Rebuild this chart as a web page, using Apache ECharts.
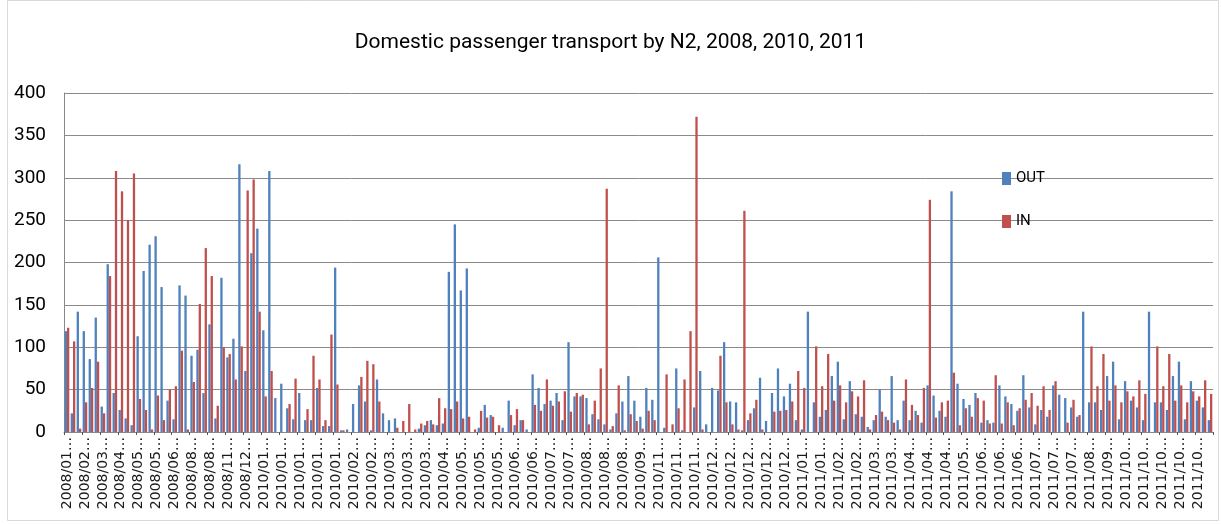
<!DOCTYPE html>
<html>
<head>
<meta charset="utf-8">
<script src="https://cdn.jsdelivr.net/npm/echarts@6/dist/echarts.min.js"></script>
<style>
  html, body { margin: 0; padding: 0; background: #fff; }
  #main { width: 1221px; height: 524px; }
</style>
</head>
<body>
<div id="main"></div>
<script>
// one tick label for every 3rd day shown on the axis (text is cut in the original)
var tickLabels = [
  '2008/01', '2008/02', '2008/03', '2008/04', '2008/05', '2008/05', '2008/06', '2008/08',
  '2008/08', '2008/11', '2008/12', '2010/01', '2010/01', '2010/01', '2010/01', '2010/01',
  '2010/02', '2010/02', '2010/03', '2010/03', '2010/03', '2010/04', '2010/05', '2010/05',
  '2010/05', '2010/06', '2010/06', '2010/07', '2010/07', '2010/08', '2010/08', '2010/08',
  '2010/09', '2010/11', '2010/11', '2010/11', '2010/12', '2010/12', '2010/12', '2010/12',
  '2010/12', '2011/01', '2011/01', '2011/02', '2011/02', '2011/03', '2011/03', '2011/04',
  '2011/04', '2011/04', '2011/05', '2011/06', '2011/06', '2011/06', '2011/07', '2011/07',
  '2011/07', '2011/08', '2011/09', '2011/10', '2011/10', '2011/10', '2011/10', '2011/10'
];

var outValues = [
  119, 22, 142, 119, 86, 135, 30, 198, 46, 26, 16, 8, 113, 190, 221, 231,
  171, 37, 15, 173, 161, 90, 97, 46, 127, 16, 182, 88, 110, 316, 72, 211,
  240, 120, 308, 40, 57, 28, 15, 46, 14, 14, 52, 7, 7, 194, 2, 3,
  33, 55, 36, 2, 62, 22, 14, 16, 0, 0, 0, 4, 8, 14, 8, 10,
  189, 245, 167, 193, 0, 5, 32, 20, 0, 5, 37, 8, 14, 3, 68, 52,
  33, 37, 46, 14, 106, 42, 42, 40, 21, 15, 9, 3, 22, 36, 66, 37,
  18, 52, 38, 206, 5, 0, 75, 2, 0, 29, 72, 9, 52, 49, 106, 36,
  35, 2, 14, 28, 64, 13, 46, 75, 42, 57, 14, 3, 142, 35, 18, 26,
  66, 83, 15, 60, 21, 18, 6, 14, 50, 18, 66, 14, 37, 14, 25, 11,
  55, 43, 25, 18, 284, 57, 39, 32, 46, 11, 14, 11, 55, 42, 33, 25,
  67, 29, 9, 26, 18, 55, 44, 40, 29, 18, 142, 35, 35, 26, 66, 83,
  15, 60, 37, 29, 14, 142, 35, 35, 26, 66, 83, 15, 60, 37, 29, 14
];

var inValues = [
  123, 107, 4, 35, 52, 83, 22, 184, 308, 284, 250, 305, 39, 26, 3, 43,
  14, 50, 54, 96, 3, 59, 151, 217, 184, 31, 100, 92, 62, 101, 285, 298,
  142, 42, 72, 0, 0, 33, 63, 0, 27, 90, 62, 14, 115, 56, 2, 0,
  0, 65, 84, 80, 36, 0, 0, 5, 13, 33, 3, 10, 13, 9, 40, 28,
  27, 36, 16, 18, 3, 25, 17, 18, 8, 0, 20, 27, 14, 0, 32, 25,
  62, 31, 36, 48, 24, 46, 44, 9, 37, 75, 287, 7, 55, 2, 21, 13,
  4, 25, 14, 0, 68, 9, 28, 62, 119, 372, 3, 0, 0, 90, 35, 9,
  3, 261, 22, 38, 3, 0, 24, 25, 26, 36, 72, 52, 0, 101, 54, 92,
  37, 55, 35, 48, 42, 61, 3, 20, 24, 14, 11, 3, 62, 32, 20, 52,
  274, 17, 35, 37, 70, 8, 28, 18, 40, 37, 10, 67, 10, 35, 8, 28,
  38, 46, 31, 54, 26, 60, 0, 11, 38, 20, 0, 101, 54, 92, 37, 55,
  35, 48, 42, 61, 45, 0, 101, 54, 92, 37, 55, 35, 48, 42, 61, 45
];

var categories = outValues.map(function (v, i) {
  return tickLabels[Math.floor(i / 3)] + '\u2026';
});

var myChart = echarts.init(document.getElementById('main'));
var option = {
  animation: false,
  backgroundColor: '#fff',
  title: {
    text: 'Domestic passenger transport by N2, 2008, 2010, 2011',
    left: 'center',
    top: 27,
    textStyle: {
      fontFamily: 'Roboto',
      fontSize: 21,
      fontWeight: 'normal',
      color: '#000'
    }
  },
  legend: {
    orient: 'vertical',
    left: 997,
    top: 166,
    icon: 'rect',
    itemWidth: 9,
    itemHeight: 13,
    itemGap: 28,
    textStyle: {
      fontFamily: 'Roboto',
      fontSize: 15,
      color: '#000'
    },
    data: ['OUT', 'IN']
  },
  grid: {
    left: 64,
    right: 8,
    top: 93,
    bottom: 92
  },
  xAxis: {
    type: 'category',
    data: categories,
    axisLine: { lineStyle: { color: '#888', width: 1 } },
    axisTick: { show: true, interval: 2, length: 3, lineStyle: { color: '#555' } },
    axisLabel: {
      interval: 2,
      rotate: 90,
      margin: 5,
      fontFamily: 'DejaVu Sans',
      fontSize: 14,
      color: '#1a1a1a'
    }
  },
  yAxis: {
    type: 'value',
    min: 0,
    max: 400,
    interval: 50,
    axisLine: { show: true, lineStyle: { color: '#888' } },
    axisTick: { show: false },
    splitLine: { lineStyle: { color: '#8a8a8a', width: 1 } },
    axisLabel: {
      margin: 18,
      fontFamily: 'Roboto',
      fontSize: 19,
      color: '#000'
    }
  },
  series: [
    {
      name: 'OUT',
      type: 'bar',
      data: outValues,
      barGap: '0%',
      barCategoryGap: '23%',
      itemStyle: { color: '#4F81BD' }
    },
    {
      name: 'IN',
      type: 'bar',
      data: inValues,
      itemStyle: { color: '#C0504D' }
    }
  ],
  graphic: [{
    type: 'rect',
    shape: { x: 7.5, y: 0.5, width: 1211, height: 520 },
    style: { fill: 'none', stroke: '#d9d9d9', lineWidth: 1 },
    silent: true
  }]
};
myChart.setOption(option);
</script>
</body>
</html>
